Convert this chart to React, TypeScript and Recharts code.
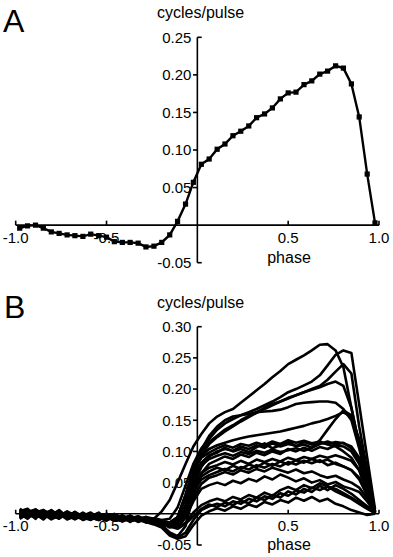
import { LineChart, Line, XAxis, YAxis, ReferenceLine, ReferenceDot } from "recharts";

// phase bin centres (46 bins over one cycle)
const PHASE = [
  -0.978, -0.935, -0.891, -0.848, -0.804, -0.761, -0.717, -0.674, -0.63, -0.587, -0.543, -0.5, -0.457, -0.413, -0.37,
  -0.326, -0.283, -0.239, -0.196, -0.152, -0.109, -0.065, -0.022, 0.022, 0.065, 0.109, 0.152, 0.196, 0.239, 0.283,
  0.326, 0.37, 0.413, 0.457, 0.5, 0.543, 0.587, 0.63, 0.674, 0.717, 0.761, 0.804, 0.848, 0.891, 0.935, 0.978,
];

// panel A: mean response
const RATE_A = [
  -0.004, -0.001, 0.0, -0.004, -0.009, -0.011, -0.013, -0.014, -0.015, -0.012, -0.014, -0.016, -0.022, -0.023, -0.023,
  -0.024, -0.029, -0.028, -0.023, -0.013, 0.005, 0.028, 0.057, 0.081, 0.088, 0.101, 0.108, 0.119, 0.125, 0.132,
  0.143, 0.148, 0.156, 0.168, 0.176, 0.177, 0.187, 0.192, 0.201, 0.205, 0.212, 0.209, 0.188, 0.144, 0.068, 0.003,
];

// panel B: individual traces
const H1 = [
  0.005, -0.003, 0.007, -0.001, 0.003, -0.006, 0.002, -0.007, 0.001, -0.005, 0.002, -0.009, -0.002, -0.008, -0.003, -0.011, -0.005, -0.008,
  0.004, 0.022, 0.05, 0.08, 0.108, 0.128, 0.145, 0.156, 0.163, 0.168, 0.178, 0.188, 0.198, 0.208, 0.219, 0.229, 0.24, 0.247, 0.254, 0.262,
  0.271, 0.272, 0.262, 0.235, 0.17, 0.11, 0.055, 0.005,
];
const H2 = [
  -0.004, 0.006, -0.002, 0.004, -0.006, 0.001, -0.005, 0.003, -0.007, -0.001, -0.009, 0.0, -0.006, -0.01, -0.003, -0.009, -0.012, -0.007,
  -0.01, -0.008, 0.01, 0.045, 0.08, 0.105, 0.12, 0.135, 0.145, 0.152, 0.158, 0.163, 0.168, 0.174, 0.18, 0.187, 0.195, 0.2, 0.206, 0.212,
  0.222, 0.238, 0.255, 0.262, 0.258, 0.175, 0.09, 0.008,
];
const H3 = [
  0.002, -0.006, 0.004, -0.003, 0.006, -0.004, -0.001, -0.008, 0.002, -0.006, -0.002, -0.01, -0.004, -0.007, -0.012, -0.005, -0.01, -0.013,
  -0.012, -0.014, -0.005, 0.03, 0.07, 0.1, 0.115, 0.125, 0.135, 0.142, 0.15, 0.157, 0.163, 0.17, 0.176, 0.18, 0.185, 0.19, 0.195, 0.2,
  0.205, 0.215, 0.228, 0.24, 0.225, 0.14, 0.07, 0.004,
];
const H4 = [
  -0.007, 0.001, -0.003, 0.005, -0.004, 0.002, -0.008, -0.002, -0.005, 0.001, -0.008, -0.004, -0.011, -0.003, -0.009, -0.006, -0.012, -0.009,
  -0.014, -0.02, -0.014, 0.015, 0.06, 0.093, 0.112, 0.123, 0.132, 0.14, 0.148, 0.155, 0.162, 0.168, 0.174, 0.18, 0.186, 0.19, 0.195, 0.199,
  0.203, 0.208, 0.212, 0.205, 0.17, 0.11, 0.055, 0.002,
];
const H5 = [
  0.008, 0.001, -0.004, 0.003, -0.007, 0.0, -0.003, -0.009, -0.001, -0.006, -0.01, -0.003, -0.007, -0.012, -0.005, -0.01, -0.007, -0.013,
  -0.013, -0.016, -0.008, 0.025, 0.07, 0.103, 0.125, 0.14, 0.15, 0.156, 0.158, 0.16, 0.163, 0.164, 0.165, 0.167, 0.171, 0.176, 0.178, 0.179,
  0.18, 0.18, 0.178, 0.168, 0.15, 0.105, 0.05, 0.004,
];
const H6 = [
  -0.002, 0.004, -0.005, 0.001, 0.005, -0.002, -0.007, 0.0, -0.004, -0.009, -0.002, -0.007, -0.003, -0.01, -0.006, -0.013, -0.008, -0.011,
  -0.012, -0.014, -0.006, 0.03, 0.07, 0.093, 0.104, 0.11, 0.114, 0.118, 0.121, 0.124, 0.126, 0.128, 0.13, 0.132, 0.135, 0.138, 0.141, 0.145,
  0.148, 0.152, 0.157, 0.163, 0.155, 0.12, 0.06, 0.003,
];
const M1 = [
  0.003, -0.005, 0.001, -0.007, 0.002, -0.003, 0.003, -0.006, -0.002, -0.008, 0.0, -0.006, -0.01, -0.004, -0.011, -0.007, -0.014, -0.009,
  -0.015, -0.022, -0.02, 0.0, 0.045, 0.075, 0.092, 0.1, 0.104, 0.101, 0.108, 0.104, 0.11, 0.106, 0.113, 0.108, 0.112, 0.109, 0.115, 0.111,
  0.114, 0.112, 0.115, 0.113, 0.108, 0.09, 0.05, 0.003,
];
const M2 = [
  -0.006, 0.003, 0.007, -0.002, -0.005, 0.004, -0.003, 0.001, -0.009, -0.003, -0.006, -0.011, -0.002, -0.008, -0.005, -0.012, -0.006, -0.01,
  -0.013, -0.016, -0.012, 0.012, 0.055, 0.082, 0.094, 0.098, 0.106, 0.1, 0.104, 0.099, 0.107, 0.113, 0.105, 0.11, 0.116, 0.108, 0.111, 0.106,
  0.112, 0.116, 0.111, 0.114, 0.105, 0.085, 0.045, 0.002,
];
const M3 = [
  0.006, -0.001, -0.006, 0.002, -0.002, -0.008, 0.001, -0.004, -0.007, 0.0, -0.009, -0.005, -0.002, -0.01, -0.007, -0.004, -0.011, -0.014,
  -0.018, -0.03, -0.036, -0.02, 0.03, 0.065, 0.08, 0.086, 0.092, 0.088, 0.095, 0.091, 0.098, 0.094, 0.1, 0.096, 0.104, 0.1, 0.106, 0.101,
  0.107, 0.104, 0.11, 0.108, 0.1, 0.08, 0.04, 0.002,
];
const M4 = [
  -0.003, 0.005, -0.001, -0.008, 0.003, -0.005, -0.002, 0.002, -0.006, -0.01, -0.001, -0.007, -0.009, -0.003, -0.012, -0.008, -0.006, -0.012,
  -0.014, -0.018, -0.015, 0.008, 0.05, 0.078, 0.088, 0.093, 0.097, 0.093, 0.099, 0.096, 0.101, 0.098, 0.103, 0.099, 0.102, 0.105, 0.101, 0.106,
  0.118, 0.135, 0.152, 0.166, 0.158, 0.11, 0.05, 0.003,
];
const M5 = [
  0.001, -0.008, 0.004, -0.004, -0.001, 0.004, -0.006, -0.003, 0.0, -0.007, -0.004, -0.01, -0.005, -0.008, -0.01, -0.004, -0.009, -0.011,
  -0.012, -0.014, -0.006, 0.03, 0.07, 0.09, 0.098, 0.105, 0.11, 0.106, 0.112, 0.109, 0.114, 0.11, 0.116, 0.112, 0.118, 0.114, 0.117, 0.113,
  0.116, 0.111, 0.108, 0.1, 0.09, 0.07, 0.035, 0.002,
];
const LM1 = [
  -0.008, 0.0, 0.005, -0.003, 0.001, -0.007, 0.002, -0.005, -0.008, -0.002, -0.005, -0.009, 0.0, -0.006, -0.011, -0.008, -0.01, -0.014,
  -0.014, -0.018, -0.016, 0.002, 0.04, 0.065, 0.074, 0.078, 0.083, 0.079, 0.085, 0.08, 0.087, 0.083, 0.088, 0.084, 0.09, 0.086, 0.091, 0.088,
  0.093, 0.09, 0.094, 0.09, 0.085, 0.07, 0.035, 0.002,
];
const LM2 = [
  0.004, 0.008, -0.003, -0.006, 0.002, -0.001, -0.006, 0.003, -0.004, -0.008, -0.001, -0.004, -0.011, -0.007, -0.003, -0.01, -0.013, -0.008,
  -0.013, -0.015, -0.01, 0.01, 0.04, 0.06, 0.068, 0.074, 0.07, 0.077, 0.072, 0.079, 0.075, 0.082, 0.077, 0.084, 0.079, 0.086, 0.082, 0.088,
  0.083, 0.087, 0.08, 0.076, 0.07, 0.055, 0.03, 0.002,
];
const LM3 = [
  -0.001, -0.007, 0.002, 0.006, -0.005, 0.001, -0.009, -0.004, 0.001, -0.006, -0.01, -0.002, -0.008, -0.012, -0.006, -0.009, -0.005, -0.012,
  -0.016, -0.02, -0.02, -0.006, 0.025, 0.048, 0.058, 0.062, 0.067, 0.063, 0.07, 0.066, 0.072, 0.068, 0.074, 0.07, 0.066, 0.071, 0.065, 0.068,
  0.062, 0.058, 0.061, 0.055, 0.05, 0.042, 0.025, 0.001,
];
const LM4 = [
  0.007, 0.002, -0.005, 0.0, -0.009, -0.003, 0.003, -0.006, -0.002, -0.009, -0.005, -0.001, -0.009, -0.005, -0.013, -0.006, -0.011, -0.015,
  -0.015, -0.02, -0.02, -0.006, 0.02, 0.04, 0.046, 0.05, 0.046, 0.053, 0.049, 0.056, 0.052, 0.06, 0.055, 0.063, 0.058, 0.052, 0.057, 0.05,
  0.054, 0.047, 0.051, 0.044, 0.04, 0.035, 0.02, 0.001,
];
const LM5 = [
  -0.005, 0.003, -0.008, 0.006, -0.001, -0.006, 0.004, -0.002, -0.007, -0.003, 0.001, -0.008, -0.004, -0.009, -0.006, -0.011, -0.007, -0.012,
  -0.014, -0.017, -0.014, 0.004, 0.035, 0.055, 0.062, 0.067, 0.072, 0.068, 0.075, 0.071, 0.078, 0.074, 0.08, 0.076, 0.083, 0.079, 0.085, 0.081,
  0.086, 0.078, 0.082, 0.076, 0.07, 0.058, 0.03, 0.001,
];
const L1 = [
  0.0, 0.006, -0.002, -0.006, 0.003, -0.004, 0.001, -0.008, -0.003, 0.002, -0.007, -0.004, -0.009, -0.002, -0.01, -0.007, -0.013, -0.016,
  -0.02, -0.032, -0.038, -0.03, -0.01, 0.006, 0.012, 0.016, 0.012, 0.02, 0.016, 0.024, 0.02, 0.028, 0.024, 0.033, 0.029, 0.037, 0.034, 0.042,
  0.038, 0.044, 0.04, 0.033, 0.026, 0.018, 0.01, 0.001,
];
const L2 = [
  -0.007, -0.001, 0.005, -0.004, -0.002, 0.006, -0.005, 0.0, -0.007, -0.004, -0.008, 0.0, -0.005, -0.01, -0.006, -0.012, -0.009, -0.011,
  -0.014, -0.02, -0.024, -0.016, -0.004, 0.008, 0.015, 0.011, 0.018, 0.014, 0.021, 0.017, 0.026, 0.022, 0.03, 0.026, 0.036, 0.031, 0.04, 0.035,
  0.045, 0.038, 0.046, 0.04, 0.032, 0.022, 0.012, 0.002,
];
const L3 = [
  0.004, -0.004, 0.0, -0.009, 0.002, -0.002, -0.006, -0.001, -0.01, -0.005, -0.003, -0.009, -0.006, -0.012, -0.008, -0.005, -0.013, -0.017,
  -0.022, -0.035, -0.04, -0.036, -0.018, -0.003, 0.004, 0.009, 0.005, 0.012, 0.008, 0.015, 0.011, 0.019, 0.015, 0.022, 0.018, 0.026, 0.021, 0.027,
  0.02, 0.024, 0.016, 0.012, 0.006, 0.002, -0.002, 0.0,
];
const L4 = [
  -0.004, 0.004, -0.006, 0.002, -0.003, 0.003, -0.007, -0.004, 0.0, -0.008, -0.006, -0.01, -0.004, -0.007, -0.011, -0.009, -0.006, -0.012,
  -0.015, -0.02, -0.022, -0.014, 0.002, 0.014, 0.02, 0.024, 0.02, 0.027, 0.023, 0.03, 0.026, 0.034, 0.029, 0.038, 0.043, 0.038, 0.046, 0.041,
  0.049, 0.044, 0.036, 0.03, 0.024, 0.016, 0.008, 0.001,
];
const TRACES_B = [H1, H2, H3, H4, H5, H6, M1, M2, M3, M4, M5, LM1, LM2, LM3, LM4, LM5, L1, L2, L3, L4];

const Y_TICKS_A = [0.25, 0.2, 0.15, 0.1, 0.05, -0.05];
const Y_LABELS_A = ["0.25", "0.20", "0.15", "0.10", "0.05", "-0.05"];
const Y_TICKS_B = [0.3, 0.25, 0.2, 0.15, 0.1, 0.05, -0.05];
const Y_LABELS_B = ["0.30", "0.25", "0.20", "0.15", "0.10", "0.05", "-0.05"];
const X_TICKS = [-1, -0.5, 0.5, 1];
const X_LABELS = ["-1.0", "-0.5", "0.5", "1.0"];

const INK = "#000";
const FONT = '"Liberation Sans", Arial, sans-serif';

const rowsA = PHASE.map((phase, i) => ({ phase, v: RATE_A[i] }));
const rowsB = PHASE.map((phase, i) => {
  const row: Record<string, number> = { phase };
  TRACES_B.forEach((t, j) => {
    row[`t${j}`] = t[i];
  });
  return row;
});

function SquareDot(props: any) {
  const { cx, cy, index } = props;
  if (cx == null || cy == null) return <g key={index} />;
  return <rect key={index} x={cx - 2.6} y={cy - 2.6} width={5.2} height={5.2} fill={INK} />;
}

// axes crossing at the origin, drawn from reference lines
function crossAxes(yTicks: number[], yLabels: string[], xTickUp: number) {
  const last = yTicks.length - 1;
  const out: any[] = [
    <ReferenceLine key="ax-y" x={0} stroke={INK} strokeWidth={1.6} />,
    <ReferenceLine key="ax-x" y={0} stroke={INK} strokeWidth={1.6} />,
  ];
  yTicks.forEach((v, i) => {
    const end = i === 0 || i === last;
    out.push(
      <ReferenceLine
        key={`yt${i}`}
        segment={end ? [{ x: 0, y: v }, { x: 0.024, y: v }] : [{ x: -0.024, y: v }, { x: 0, y: v }]}
        stroke={INK}
        strokeWidth={1.6}
      />,
      <ReferenceDot
        key={`yl${i}`}
        x={0}
        y={v}
        r={0}
        fill="none"
        stroke="none"
        label={{ value: yLabels[i], position: "left", offset: 6, fill: INK, fontSize: 15 }}
      />
    );
  });
  X_TICKS.forEach((t, i) => {
    out.push(
      <ReferenceLine key={`xt${i}`} segment={[{ x: t, y: 0 }, { x: t, y: xTickUp }]} stroke={INK} strokeWidth={1.6} />,
      <ReferenceDot
        key={`xl${i}`}
        x={t}
        y={0}
        r={0}
        fill="none"
        stroke="none"
        label={{ value: X_LABELS[i], position: "bottom", offset: 7, fill: INK, fontSize: 15 }}
      />
    );
  });
  return out;
}

export default function App() {
  return (
    <div style={{ position: "absolute", left: 0, top: 0, width: 393, height: 557, background: "#fff", fontFamily: FONT }}>
      <div style={{ position: "absolute", left: 0, top: 0 }}>
        <LineChart width={393} height={280} data={rowsA} margin={{ top: 37.3, right: 14, bottom: 17.3, left: 15.7 }}>
          <XAxis dataKey="phase" type="number" domain={[-1, 1]} allowDataOverflow hide />
          <YAxis type="number" domain={[-0.05, 0.25]} allowDataOverflow hide />
          {crossAxes(Y_TICKS_A, Y_LABELS_A, 0.006)}
          <Line
            dataKey="v"
            type="linear"
            stroke={INK}
            strokeWidth={2.4}
            dot={SquareDot}
            activeDot={false}
            isAnimationActive={false}
          />
        </LineChart>
      </div>
      <div style={{ position: "absolute", left: 0, top: 280 }}>
        <LineChart width={393} height={277} data={rowsB} margin={{ top: 46.7, right: 14, bottom: 12, left: 15.7 }}>
          <XAxis dataKey="phase" type="number" domain={[-1, 1]} allowDataOverflow hide />
          <YAxis type="number" domain={[-0.05, 0.3]} allowDataOverflow hide />
          {crossAxes(Y_TICKS_B, Y_LABELS_B, 0.0065)}
          {TRACES_B.map((_, j) => (
            <Line
              key={j}
              dataKey={`t${j}`}
              type="linear"
              stroke={INK}
              strokeWidth={2.6}
              strokeLinejoin="round"
              dot={false}
              activeDot={false}
              isAnimationActive={false}
            />
          ))}
        </LineChart>
      </div>
      <svg width={393} height={557} style={{ position: "absolute", left: 0, top: 0, pointerEvents: "none" }}>
        <text x={3} y={31.5} fontSize={32} fill={INK}>A</text>
        <text x={157} y={18} fontSize={16} fill={INK}>cycles/pulse</text>
        <text x={289} y={263} fontSize={16} fill={INK} textAnchor="middle">phase</text>
        <text x={4} y={318} fontSize={32} fill={INK}>B</text>
        <text x={157} y={308} fontSize={16} fill={INK}>cycles/pulse</text>
        <text x={289} y={549.5} fontSize={16} fill={INK} textAnchor="middle">phase</text>
      </svg>
    </div>
  );
}
